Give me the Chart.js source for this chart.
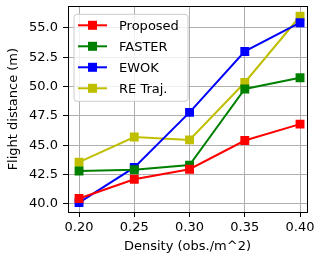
<!DOCTYPE html>
<html>
<head>
<meta charset="utf-8">
<script src="https://cdn.jsdelivr.net/npm/chart.js@4"></script>
<style>
  html, body { margin: 0; padding: 0; background: #fff; }
  #wrap { width: 316px; height: 256px; }
</style>
</head>
<body>
<div id="wrap"><canvas id="grafico"></canvas></div>
<script>
const densita = [0.20, 0.25, 0.30, 0.35, 0.40];
const proposed = [40.45, 42.1, 42.95, 45.4, 46.8];
const faster = [42.8, 42.9, 43.3, 49.8, 50.75];
const ewok = [40.1, 43.1, 47.8, 53.0, 55.45];
const reTraj = [43.55, 45.7, 45.45, 50.35, 56.0];
const xTicks = [0.20, 0.25, 0.30, 0.35, 0.40];
const yTicks = [40.0, 42.5, 45.0, 47.5, 50.0, 52.5, 55.0];

const font = "'DejaVu Sans', sans-serif";

function serie(label, valori, colore) {
    return {
        label: label,
        data: densita.map((x, i) => ({ x: x, y: valori[i] })),
        borderColor: colore,
        backgroundColor: colore,
        borderWidth: 2,
        pointStyle: 'rect',
        pointRadius: 6.3,
        pointBorderWidth: 0,
        tension: 0
    };
}

// cornice + legenda dentro l'area del grafico, come matplotlib
const cornice = {
    id: 'cornice',
    afterDraw(chart) {
        const c = chart.ctx, a = chart.chartArea;
        c.save();
        c.strokeStyle = '#000';
        c.lineWidth = 1;
        c.strokeRect(Math.round(a.left) + 0.5, Math.round(a.top) + 0.5,
            Math.round(a.right - a.left), Math.round(a.bottom - a.top));

        // legenda
        const x0 = a.left + 6, y0 = a.top + 8, w = 114, h = 87, r = 3;
        c.beginPath();
        c.moveTo(x0 + r, y0);
        c.arcTo(x0 + w, y0, x0 + w, y0 + h, r);
        c.arcTo(x0 + w, y0 + h, x0, y0 + h, r);
        c.arcTo(x0, y0 + h, x0, y0, r);
        c.arcTo(x0, y0, x0 + w, y0, r);
        c.closePath();
        c.fillStyle = 'rgba(255,255,255,0.8)';
        c.fill();
        c.strokeStyle = '#cccccc';
        c.stroke();

        c.font = '13px ' + font;
        c.textBaseline = 'middle';
        chart.data.datasets.forEach((ds, i) => {
            const yy = y0 + 11 + i * 21;
            c.strokeStyle = ds.borderColor;
            c.lineWidth = 2;
            c.beginPath();
            c.moveTo(x0 + 4, yy);
            c.lineTo(x0 + 33, yy);
            c.stroke();
            c.fillStyle = ds.borderColor;
            c.fillRect(x0 + 18.5 - 4.5, yy - 4.5, 9, 9);
            c.fillStyle = '#000';
            c.fillText(ds.label, x0 + 45, yy + 1);
        });
        c.restore();
    }
};

new Chart(document.getElementById('grafico'), {
    type: 'line',
    data: {
        datasets: [
            serie('Proposed', proposed, '#ff0000'),
            serie('FASTER', faster, '#008000'),
            serie('EWOK', ewok, '#0000ff'),
            serie('RE Traj.', reTraj, '#bfbf00')
        ]
    },
    options: {
        responsive: true,
        maintainAspectRatio: false,
        animation: false,
        devicePixelRatio: 1,
        layout: { padding: { top: 5, right: 9, left: 0, bottom: 0 } },
        plugins: {
            legend: { display: false },
            tooltip: { enabled: false }
        },
        scales: {
            x: {
                type: 'linear',
                min: 0.19,
                max: 0.4063,
                afterBuildTicks: scale => { scale.ticks = xTicks.map(v => ({ value: v })); },
                afterFit: scale => {
                    scale.height = 44;
                    scale.paddingLeft = 0;
                    scale.paddingRight = 0;
                },
                ticks: {
                    color: '#000',
                    font: { family: font, size: 13 },
                    padding: 3,
                    maxRotation: 0,
                    callback: v => v.toFixed(2)
                },
                grid: { color: '#b0b0b0', lineWidth: 1, tickColor: '#000', tickLength: 5 },
                border: { color: '#000', width: 1 },
                title: {
                    display: true,
                    text: 'Density (obs./m^2)',
                    color: '#000',
                    font: { family: font, size: 13 },
                    padding: { top: 0, bottom: 2 }
                }
            },
            y: {
                min: 39.3,
                max: 56.85,
                afterBuildTicks: scale => { scale.ticks = yTicks.map(v => ({ value: v })); },
                afterFit: scale => {
                    scale.width = 68;
                    scale.paddingTop = 0;
                    scale.paddingBottom = 0;
                },
                ticks: {
                    color: '#000',
                    font: { family: font, size: 13 },
                    padding: 5,
                    callback: v => v.toFixed(1)
                },
                grid: { color: '#b0b0b0', lineWidth: 1, tickColor: '#000', tickLength: 5 },
                border: { color: '#000', width: 1 },
                title: {
                    display: true,
                    text: 'Flight distance (m)',
                    color: '#000',
                    font: { family: font, size: 13 },
                    padding: { top: 6, bottom: 0 }
                }
            }
        }
    },
    plugins: [cornice]
});
</script>
</body>
</html>
